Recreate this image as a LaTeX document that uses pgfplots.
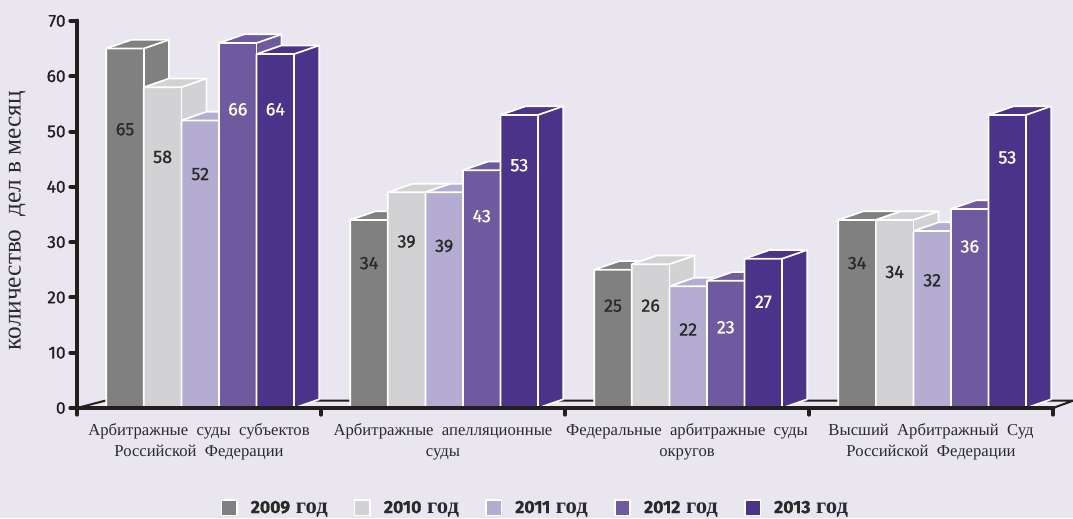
\documentclass[border=0pt]{standalone}
\usepackage{fontspec}
\usepackage{pgfplots}
\pgfplotsset{compat=1.18}
\setmainfont{Liberation Serif}
\newfontfamily\numfont[FakeBold=0.9]{Fira Sans}
\definecolor{bgc}{HTML}{E9E6F0}
\definecolor{axc}{HTML}{231F20}
\definecolor{txt}{HTML}{2A2A2A}
\definecolor{c2009}{HTML}{808080}
\definecolor{c2010}{HTML}{D2D2D4}
\definecolor{c2011}{HTML}{B5ACD2}
\definecolor{c2012}{HTML}{6F5A9F}
\definecolor{c2013}{HTML}{4B338A}
\newcommand\valfont{\numfont\fontsize{13.5}{14}\selectfont}
\newcommand\legnum{\numfont\fontsize{13.2}{14}\selectfont}
\newcommand\grpfont{\fontsize{12.5}{15.75}\selectfont}
\newcommand\ylfont{\fontsize{19}{19}\selectfont}
% 3D bar: #1 left x, #2 value, #3 colour, #4 label y, #5 label colour
\newcommand\tdbar[5]{%
  \pgfmathsetmacro\xa{#1}%
  \pgfmathsetmacro\xb{#1+0.154}%
  \pgfmathsetmacro\xc{#1+0.1025}%
  \pgfmathsetmacro\xd{#1+0.2565}%
  \pgfmathsetmacro\xm{#1+0.077}%
  \pgfmathsetmacro\yt{#2+1.57}%
  \edef\tmp{%
    \noexpand\addplot[forget plot, fill=#3, draw=white, line width=1.3pt, line join=round]
      coordinates {(\xa,0) (\xa,#2) (\xc,\yt) (\xd,\yt) (\xd,1.57) (\xb,0)} \noexpand\closedcycle;
    \noexpand\addplot[forget plot, draw=white, line width=1.3pt, line join=round]
      coordinates {(\xa,#2) (\xb,#2) (\xd,\yt)};
    \noexpand\addplot[forget plot, draw=white, line width=1.3pt]
      coordinates {(\xb,0) (\xb,#2)};
    \noexpand\node[font=\noexpand\valfont, text=#5] at (axis cs:\xm,#4) {#2};
  }\tmp}
\newcommand\legsq[1]{\addlegendimage{legend image code/.code={\draw[fill=#1, draw=white, line width=1.2pt] (0pt,-5.8pt) rectangle (11.6pt,5.8pt); \path (19.8pt,0pt);}}}
\begin{document}
\begin{tikzpicture}
\fill[bgc] (-57.75pt,-82.5pt) rectangle (747pt,306pt);
\begin{axis}[
  anchor=origin, at={(0pt,0pt)},
  x=183pt, y=4.1475pt,
  xmin=0, xmax=4, ymin=0, ymax=70,
  axis x line*=bottom, axis y line*=left,
  axis line style={line width=3.5pt, color=axc, line cap=round},
  clip=false, axis on top,
  xtick={0,1,2,3,4}, xticklabels={},
  ytick={0,10,...,70},
  tick align=outside,
  major tick length=5pt,
  tick style={line width=3pt, color=axc, line cap=round},
  yticklabel style={font=\numfont\fontsize{13}{13}\selectfont, text=axc},
  /pgf/number format/assume math mode=true,
  legend columns=5,
  legend style={draw=none, fill=none, inner sep=0pt, outer sep=0pt,
    at={(0.1472,-0.2582)}, anchor=west,
    font=\bfseries\fontsize{17}{17}\selectfont, text=txt,
    /tikz/every even column/.append style={column sep=17.6pt}},
]
% floor
\addplot[forget plot, draw=axc, line width=1.5pt] coordinates {(0,0) (0.115,1.32) (4.082,1.32) (4,0)};
% group 1
\tdbar{0.12}{65}{c2009}{50.4}{txt}
\tdbar{0.274}{58}{c2010}{45.4}{txt}
\tdbar{0.428}{52}{c2011}{42.3}{txt}
\tdbar{0.582}{66}{c2012}{54}{white}
\tdbar{0.736}{64}{c2013}{54}{white}
% group 2
\tdbar{1.12}{34}{c2009}{26.2}{txt}
\tdbar{1.274}{39}{c2010}{30.1}{txt}
\tdbar{1.428}{39}{c2011}{29.3}{txt}
\tdbar{1.582}{43}{c2012}{34.7}{white}
\tdbar{1.736}{53}{c2013}{43.9}{white}
% group 3
\tdbar{2.12}{25}{c2009}{18.5}{txt}
\tdbar{2.274}{26}{c2010}{18.5}{txt}
\tdbar{2.428}{22}{c2011}{14.2}{txt}
\tdbar{2.582}{23}{c2012}{14.6}{white}
\tdbar{2.736}{27}{c2013}{19.2}{white}
% group 4
\tdbar{3.12}{34}{c2009}{26.2}{txt}
\tdbar{3.274}{34}{c2010}{24.6}{txt}
\tdbar{3.428}{32}{c2011}{23.1}{txt}
\tdbar{3.582}{36}{c2012}{29.2}{white}
\tdbar{3.736}{53}{c2013}{45.3}{white}
% group labels
\node[anchor=north, align=center, text=txt, font=\grpfont, yshift=-8pt] at (axis cs:0.5,0) {Арбитражные\ \ суды\ \ субъектов\\Российской\ \ Федерации};
\node[anchor=north, align=center, text=txt, font=\grpfont, yshift=-8pt] at (axis cs:1.5,0) {Арбитражные\ \ апелляционные\\суды};
\node[anchor=north, align=center, text=txt, font=\grpfont, yshift=-8pt] at (axis cs:2.5,0) {Федеральные\ \ арбитражные\ \ суды\\округов};
\node[anchor=north, align=center, text=txt, font=\grpfont, yshift=-8pt] at (axis cs:3.5,0) {Высший\ \ Арбитражный\ \ Суд\\Российской\ \ Федерации};
\legsq{c2009}\addlegendentry{{\legnum 2009} год}
\legsq{c2010}\addlegendentry{{\legnum 2010} год}
\legsq{c2011}\addlegendentry{{\legnum 2011} год}
\legsq{c2012}\addlegendentry{{\legnum 2012} год}
\legsq{c2013}\addlegendentry{{\legnum 2013} год}
\end{axis}
\node[rotate=90, text=txt, font=\ylfont] at (-45pt,140.5pt) {количество\ \ дел\ в\ месяц};
\pgfresetboundingbox
\path[use as bounding box] (-57.75pt,-82.5pt) rectangle (747pt,306pt);
\end{tikzpicture}
\end{document}
